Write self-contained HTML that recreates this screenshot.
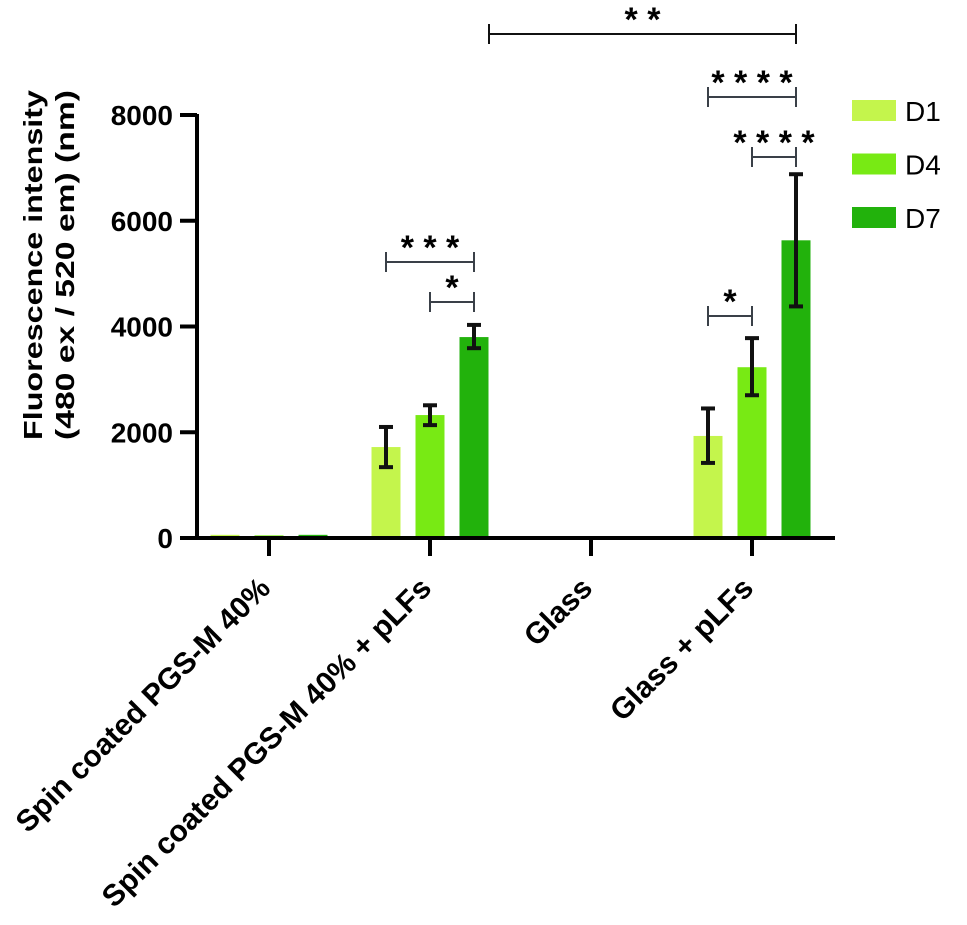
<!DOCTYPE html>
<html><head><meta charset="utf-8"><style>
html,body{margin:0;padding:0;background:#fff;}
svg{display:block;font-family:"Liberation Sans",Arial,sans-serif;}
</style></head><body>
<svg id="chart" width="967" height="925" viewBox="0 0 967 925" xmlns="http://www.w3.org/2000/svg">
<g id="ytitle">
<text transform="translate(42,265) rotate(-90)" text-anchor="middle" font-size="26" font-weight="bold" textLength="350" lengthAdjust="spacingAndGlyphs">Fluorescence intensity</text>
<text transform="translate(74,265) rotate(-90)" text-anchor="middle" font-size="26" font-weight="bold" textLength="350" lengthAdjust="spacingAndGlyphs">(480 ex / 520 em)  (nm)</text>
</g>
<g id="plot"></g>
</svg>
<script>
const categories = ["Spin coated PGS-M 40%","Spin coated PGS-M 40% + pLFs","Glass","Glass + pLFs"];
const seriesNames = ["D1","D4","D7"];
const seriesColors = ["#c4f54c","#78ea14","#22b20c"];
const d1Values = [60, 1720, 0, 1930];
const d4Values = [50, 2325, 0, 3230];
const d7Values = [60, 3800, 0, 5630];
const d1ErrLow = [0, 1340, 0, 1420];
const d1ErrHigh = [0, 2100, 0, 2450];
const d4ErrLow = [0, 2135, 0, 2700];
const d4ErrHigh = [0, 2510, 0, 3780];
const d7ErrLow = [0, 3590, 0, 4380];
const d7ErrHigh = [0, 4030, 0, 6880];
const yTicks = [0, 2000, 4000, 6000, 8000];

const NS = "http://www.w3.org/2000/svg";
const plot = document.getElementById("plot");
const y0px = 538, y8px = 115;
function yScale(v){ return y0px - (v/8000)*(y0px-y8px); }
function groupX(i){ return 269 + i*161; }
function barX(i,s){ return groupX(i) + (s-1)*44; }
function mk(tag, attrs, parent){
  const el = document.createElementNS(NS, tag);
  for (const k in attrs) el.setAttribute(k, attrs[k]);
  (parent||plot).appendChild(el);
  return el;
}
const values = [d1Values, d4Values, d7Values];
const lows = [d1ErrLow, d4ErrLow, d7ErrLow];
const highs = [d1ErrHigh, d4ErrHigh, d7ErrHigh];
const bw = 29;
for (let s=0;s<3;s++){
  for (let i=0;i<categories.length;i++){
    const v = values[s][i];
    if (v<=0) continue;
    const r = mk("rect",{x:barX(i,s)-bw/2, y:yScale(v), width:bw, height:y0px-yScale(v), fill:seriesColors[s]});
    
    
  }
}
for (let s=0;s<3;s++){
  for (let i=0;i<categories.length;i++){
    const lo = lows[s][i], hi = highs[s][i];
    if (hi<=0) continue;
    const cx = barX(i,s);
    const g = mk("g",{stroke:"#111","stroke-width":4});
    
    
    mk("line",{x1:cx,x2:cx,y1:yScale(hi),y2:yScale(lo)},g);
    mk("line",{x1:cx-7,x2:cx+7,y1:yScale(hi),y2:yScale(hi)},g);
    mk("line",{x1:cx-7,x2:cx+7,y1:yScale(lo),y2:yScale(lo)},g);
  }
}
const yAxis = mk("line",{x1:197,x2:197,y1:yScale(8000)-1,y2:y0px+2,stroke:"#000","stroke-width":4});


const xAxis = mk("line",{x1:195,x2:835,y1:y0px,y2:y0px,stroke:"#000","stroke-width":4});


for (const t of yTicks){
  const ln = mk("line",{x1:180,x2:197,y1:yScale(t),y2:yScale(t),stroke:"#000","stroke-width":4});
  
  
  const tx = mk("text",{x:173,y:yScale(t)+10,"text-anchor":"end","font-size":28,"font-weight":"bold"});
  tx.textContent = t;
  
  
}
for (let i=0;i<categories.length;i++){
  const gx = groupX(i);
  const ln = mk("line",{x1:gx,x2:gx,y1:y0px,y2:556,stroke:"#000","stroke-width":4});
  
  
  const tx = mk("text",{transform:"translate("+(gx+3)+",590) rotate(-45)","text-anchor":"end","font-size":30,"font-weight":"bold"});
  tx.textContent = categories[i];
  
  
}
const sigLabels = ["* *","* * * *","* * * *","*","* * *","*"];
const sigFrom = [[2,0],[3,0],[3,1],[3,0],[1,0],[1,1]];
const sigTo = [[3,2],[3,2],[3,2],[3,1],[1,2],[1,2]];
const sigY = [34, 97, 157, 316, 262, 302];
for (let k=0;k<sigLabels.length;k++){
  let x1 = k===0 ? groupX(2)-102 : barX(sigFrom[k][0], sigFrom[k][1]);
  let x2 = barX(sigTo[k][0], sigTo[k][1]);
  const g = mk("g",{stroke:k===0?"#111":"#3a4048","stroke-width":2});
  
  
  mk("line",{x1:x1,x2:x2,y1:sigY[k],y2:sigY[k]},g);
  mk("line",{x1:x1,x2:x1,y1:sigY[k]-10,y2:sigY[k]+10},g);
  mk("line",{x1:x2,x2:x2,y1:sigY[k]-10,y2:sigY[k]+10},g);
  const tx = mk("text",{x:(x1+x2)/2,y:sigY[k]-3,"text-anchor":"middle","font-size":34,"font-weight":"bold"});
  tx.textContent = sigLabels[k];
  
  
}
for (let s=0;s<3;s++){
  const yy = 100 + s*53.5;
  const r = mk("rect",{x:852,y:yy,width:44,height:21,fill:seriesColors[s]});
  
  
  const tx = mk("text",{x:905,y:yy+21,"font-size":28});
  tx.textContent = seriesNames[s];
  
  
}
</script>
</body></html>
